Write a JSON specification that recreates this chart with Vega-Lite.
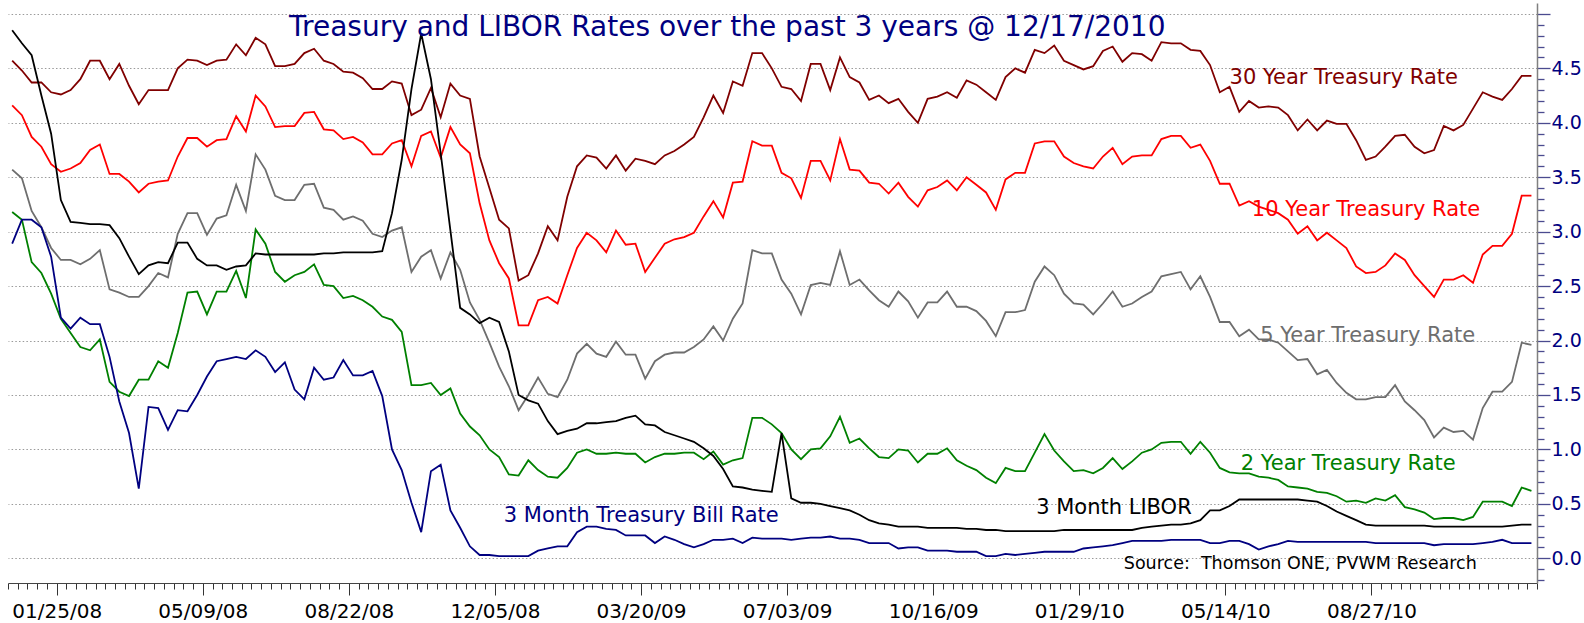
{
"$schema":"https://vega.github.io/schema/vega-lite/v6.json",
"width":1529,"height":580,
"autosize":{"type":"none"},
"padding":{"left":8,"top":3,"right":47,"bottom":40},
"background":"white",
"config":{"view":{"stroke":null},"font":"DejaVu Sans"},
"datasets":{
"rates":[
{"d":"2007-12-24","t30":4.57,"t10":4.16,"t5":3.57,"t2":3.18,"libor":4.85,"tbill":2.89},
{"d":"2007-12-31","t30":4.48,"t10":4.07,"t5":3.49,"t2":3.11,"libor":4.73,"tbill":3.11},
{"d":"2008-01-07","t30":4.37,"t10":3.87,"t5":3.19,"t2":2.72,"libor":4.62,"tbill":3.11},
{"d":"2008-01-14","t30":4.37,"t10":3.78,"t5":3.04,"t2":2.62,"libor":4.25,"tbill":3.04},
{"d":"2008-01-21","t30":4.28,"t10":3.62,"t5":2.85,"t2":2.43,"libor":3.90,"tbill":2.77},
{"d":"2008-01-28","t30":4.26,"t10":3.55,"t5":2.74,"t2":2.20,"libor":3.29,"tbill":2.21},
{"d":"2008-02-04","t30":4.30,"t10":3.58,"t5":2.74,"t2":2.07,"libor":3.09,"tbill":2.11},
{"d":"2008-02-11","t30":4.40,"t10":3.63,"t5":2.70,"t2":1.94,"libor":3.08,"tbill":2.21},
{"d":"2008-02-18","t30":4.57,"t10":3.75,"t5":2.75,"t2":1.91,"libor":3.07,"tbill":2.15},
{"d":"2008-02-25","t30":4.57,"t10":3.80,"t5":2.83,"t2":2.01,"libor":3.07,"tbill":2.15},
{"d":"2008-03-03","t30":4.40,"t10":3.53,"t5":2.47,"t2":1.62,"libor":3.06,"tbill":1.85},
{"d":"2008-03-10","t30":4.54,"t10":3.53,"t5":2.44,"t2":1.53,"libor":2.94,"tbill":1.44},
{"d":"2008-03-17","t30":4.34,"t10":3.46,"t5":2.40,"t2":1.49,"libor":2.77,"tbill":1.15},
{"d":"2008-03-24","t30":4.17,"t10":3.36,"t5":2.40,"t2":1.64,"libor":2.61,"tbill":0.64},
{"d":"2008-03-31","t30":4.30,"t10":3.44,"t5":2.50,"t2":1.64,"libor":2.69,"tbill":1.39},
{"d":"2008-04-07","t30":4.30,"t10":3.46,"t5":2.62,"t2":1.81,"libor":2.72,"tbill":1.38},
{"d":"2008-04-14","t30":4.30,"t10":3.47,"t5":2.58,"t2":1.75,"libor":2.71,"tbill":1.18},
{"d":"2008-04-21","t30":4.50,"t10":3.69,"t5":2.98,"t2":2.07,"libor":2.90,"tbill":1.36},
{"d":"2008-04-28","t30":4.58,"t10":3.86,"t5":3.17,"t2":2.44,"libor":2.90,"tbill":1.35},
{"d":"2008-05-05","t30":4.57,"t10":3.86,"t5":3.17,"t2":2.45,"libor":2.75,"tbill":1.50},
{"d":"2008-05-12","t30":4.53,"t10":3.78,"t5":2.97,"t2":2.24,"libor":2.69,"tbill":1.67},
{"d":"2008-05-19","t30":4.57,"t10":3.84,"t5":3.12,"t2":2.45,"libor":2.69,"tbill":1.81},
{"d":"2008-05-26","t30":4.58,"t10":3.85,"t5":3.15,"t2":2.45,"libor":2.65,"tbill":1.83},
{"d":"2008-06-02","t30":4.72,"t10":4.06,"t5":3.43,"t2":2.64,"libor":2.68,"tbill":1.85},
{"d":"2008-06-09","t30":4.62,"t10":3.92,"t5":3.19,"t2":2.39,"libor":2.69,"tbill":1.83},
{"d":"2008-06-16","t30":4.78,"t10":4.25,"t5":3.71,"t2":3.02,"libor":2.80,"tbill":1.91},
{"d":"2008-06-23","t30":4.72,"t10":4.15,"t5":3.57,"t2":2.89,"libor":2.79,"tbill":1.85},
{"d":"2008-06-30","t30":4.52,"t10":3.96,"t5":3.33,"t2":2.63,"libor":2.79,"tbill":1.71},
{"d":"2008-07-07","t30":4.52,"t10":3.97,"t5":3.29,"t2":2.54,"libor":2.79,"tbill":1.80},
{"d":"2008-07-14","t30":4.54,"t10":3.97,"t5":3.29,"t2":2.60,"libor":2.79,"tbill":1.55},
{"d":"2008-07-21","t30":4.64,"t10":4.09,"t5":3.43,"t2":2.63,"libor":2.79,"tbill":1.46},
{"d":"2008-07-28","t30":4.68,"t10":4.10,"t5":3.44,"t2":2.70,"libor":2.79,"tbill":1.75},
{"d":"2008-08-04","t30":4.57,"t10":3.94,"t5":3.22,"t2":2.51,"libor":2.80,"tbill":1.64},
{"d":"2008-08-11","t30":4.54,"t10":3.93,"t5":3.20,"t2":2.50,"libor":2.80,"tbill":1.66},
{"d":"2008-08-18","t30":4.47,"t10":3.85,"t5":3.11,"t2":2.39,"libor":2.81,"tbill":1.82},
{"d":"2008-08-25","t30":4.46,"t10":3.87,"t5":3.14,"t2":2.41,"libor":2.81,"tbill":1.68},
{"d":"2008-09-01","t30":4.41,"t10":3.82,"t5":3.10,"t2":2.37,"libor":2.81,"tbill":1.68},
{"d":"2008-09-08","t30":4.31,"t10":3.71,"t5":2.98,"t2":2.31,"libor":2.81,"tbill":1.72},
{"d":"2008-09-15","t30":4.31,"t10":3.71,"t5":2.95,"t2":2.22,"libor":2.82,"tbill":1.49},
{"d":"2008-09-22","t30":4.38,"t10":3.81,"t5":3.01,"t2":2.19,"libor":3.17,"tbill":1.00},
{"d":"2008-09-29","t30":4.36,"t10":3.84,"t5":3.04,"t2":2.08,"libor":3.66,"tbill":0.81},
{"d":"2008-10-06","t30":4.07,"t10":3.60,"t5":2.63,"t2":1.59,"libor":4.31,"tbill":0.51},
{"d":"2008-10-13","t30":4.12,"t10":3.88,"t5":2.77,"t2":1.59,"libor":4.82,"tbill":0.24},
{"d":"2008-10-20","t30":4.32,"t10":3.92,"t5":2.83,"t2":1.61,"libor":4.40,"tbill":0.80},
{"d":"2008-10-27","t30":4.05,"t10":3.68,"t5":2.57,"t2":1.50,"libor":3.72,"tbill":0.86},
{"d":"2008-11-03","t30":4.36,"t10":3.96,"t5":2.81,"t2":1.56,"libor":3.01,"tbill":0.44},
{"d":"2008-11-10","t30":4.25,"t10":3.80,"t5":2.65,"t2":1.33,"libor":2.30,"tbill":0.28},
{"d":"2008-11-17","t30":4.22,"t10":3.72,"t5":2.35,"t2":1.21,"libor":2.24,"tbill":0.11},
{"d":"2008-11-24","t30":3.69,"t10":3.26,"t5":2.19,"t2":1.13,"libor":2.16,"tbill":0.03},
{"d":"2008-12-01","t30":3.40,"t10":2.92,"t5":1.98,"t2":1.00,"libor":2.21,"tbill":0.03},
{"d":"2008-12-08","t30":3.11,"t10":2.71,"t5":1.76,"t2":0.93,"libor":2.17,"tbill":0.02},
{"d":"2008-12-15","t30":3.03,"t10":2.57,"t5":1.58,"t2":0.77,"libor":1.90,"tbill":0.02},
{"d":"2008-12-22","t30":2.55,"t10":2.14,"t5":1.36,"t2":0.76,"libor":1.50,"tbill":0.02},
{"d":"2008-12-29","t30":2.60,"t10":2.14,"t5":1.50,"t2":0.90,"libor":1.45,"tbill":0.02},
{"d":"2009-01-05","t30":2.80,"t10":2.37,"t5":1.66,"t2":0.81,"libor":1.42,"tbill":0.07},
{"d":"2009-01-12","t30":3.05,"t10":2.40,"t5":1.51,"t2":0.75,"libor":1.26,"tbill":0.09},
{"d":"2009-01-19","t30":2.92,"t10":2.34,"t5":1.48,"t2":0.74,"libor":1.14,"tbill":0.11},
{"d":"2009-01-26","t30":3.32,"t10":2.60,"t5":1.64,"t2":0.83,"libor":1.17,"tbill":0.11},
{"d":"2009-02-02","t30":3.60,"t10":2.85,"t5":1.88,"t2":0.97,"libor":1.19,"tbill":0.24},
{"d":"2009-02-09","t30":3.70,"t10":2.99,"t5":1.97,"t2":1.00,"libor":1.24,"tbill":0.29},
{"d":"2009-02-16","t30":3.68,"t10":2.92,"t5":1.88,"t2":0.96,"libor":1.24,"tbill":0.29},
{"d":"2009-02-23","t30":3.58,"t10":2.81,"t5":1.85,"t2":0.96,"libor":1.25,"tbill":0.27},
{"d":"2009-03-02","t30":3.70,"t10":3.01,"t5":1.99,"t2":0.97,"libor":1.26,"tbill":0.26},
{"d":"2009-03-09","t30":3.56,"t10":2.88,"t5":1.87,"t2":0.96,"libor":1.29,"tbill":0.21},
{"d":"2009-03-16","t30":3.67,"t10":2.89,"t5":1.87,"t2":0.96,"libor":1.31,"tbill":0.21},
{"d":"2009-03-23","t30":3.65,"t10":2.63,"t5":1.65,"t2":0.88,"libor":1.23,"tbill":0.21},
{"d":"2009-03-30","t30":3.62,"t10":2.76,"t5":1.81,"t2":0.93,"libor":1.22,"tbill":0.14},
{"d":"2009-04-06","t30":3.70,"t10":2.89,"t5":1.87,"t2":0.96,"libor":1.16,"tbill":0.20},
{"d":"2009-04-13","t30":3.74,"t10":2.93,"t5":1.89,"t2":0.96,"libor":1.13,"tbill":0.17},
{"d":"2009-04-20","t30":3.80,"t10":2.95,"t5":1.89,"t2":0.97,"libor":1.10,"tbill":0.13},
{"d":"2009-04-27","t30":3.87,"t10":2.99,"t5":1.94,"t2":0.97,"libor":1.07,"tbill":0.10},
{"d":"2009-05-04","t30":4.05,"t10":3.14,"t5":2.01,"t2":0.91,"libor":1.01,"tbill":0.13},
{"d":"2009-05-11","t30":4.25,"t10":3.28,"t5":2.13,"t2":0.98,"libor":0.94,"tbill":0.17},
{"d":"2009-05-18","t30":4.09,"t10":3.13,"t5":2.00,"t2":0.86,"libor":0.82,"tbill":0.17},
{"d":"2009-05-25","t30":4.38,"t10":3.45,"t5":2.20,"t2":0.90,"libor":0.66,"tbill":0.18},
{"d":"2009-06-01","t30":4.34,"t10":3.46,"t5":2.34,"t2":0.92,"libor":0.65,"tbill":0.14},
{"d":"2009-06-08","t30":4.64,"t10":3.83,"t5":2.83,"t2":1.29,"libor":0.63,"tbill":0.19},
{"d":"2009-06-15","t30":4.64,"t10":3.79,"t5":2.80,"t2":1.29,"libor":0.62,"tbill":0.18},
{"d":"2009-06-22","t30":4.50,"t10":3.79,"t5":2.80,"t2":1.23,"libor":0.61,"tbill":0.18},
{"d":"2009-06-29","t30":4.33,"t10":3.54,"t5":2.56,"t2":1.15,"libor":1.15,"tbill":0.18},
{"d":"2009-07-06","t30":4.31,"t10":3.49,"t5":2.43,"t2":1.00,"libor":0.55,"tbill":0.17},
{"d":"2009-07-13","t30":4.20,"t10":3.31,"t5":2.24,"t2":0.91,"libor":0.51,"tbill":0.18},
{"d":"2009-07-20","t30":4.54,"t10":3.65,"t5":2.51,"t2":1.00,"libor":0.51,"tbill":0.19},
{"d":"2009-07-27","t30":4.54,"t10":3.65,"t5":2.53,"t2":1.01,"libor":0.50,"tbill":0.19},
{"d":"2009-08-03","t30":4.30,"t10":3.47,"t5":2.51,"t2":1.12,"libor":0.48,"tbill":0.20},
{"d":"2009-08-10","t30":4.60,"t10":3.85,"t5":2.82,"t2":1.30,"libor":0.46,"tbill":0.18},
{"d":"2009-08-17","t30":4.42,"t10":3.57,"t5":2.51,"t2":1.06,"libor":0.44,"tbill":0.18},
{"d":"2009-08-24","t30":4.37,"t10":3.56,"t5":2.56,"t2":1.10,"libor":0.40,"tbill":0.17},
{"d":"2009-08-31","t30":4.21,"t10":3.45,"t5":2.46,"t2":1.01,"libor":0.35,"tbill":0.14},
{"d":"2009-09-07","t30":4.25,"t10":3.44,"t5":2.37,"t2":0.93,"libor":0.32,"tbill":0.14},
{"d":"2009-09-14","t30":4.18,"t10":3.35,"t5":2.31,"t2":0.92,"libor":0.31,"tbill":0.14},
{"d":"2009-09-21","t30":4.22,"t10":3.45,"t5":2.45,"t2":1.00,"libor":0.29,"tbill":0.09},
{"d":"2009-09-28","t30":4.10,"t10":3.32,"t5":2.36,"t2":0.99,"libor":0.29,"tbill":0.10},
{"d":"2009-10-05","t30":4.00,"t10":3.23,"t5":2.21,"t2":0.88,"libor":0.29,"tbill":0.10},
{"d":"2009-10-12","t30":4.22,"t10":3.38,"t5":2.35,"t2":0.96,"libor":0.28,"tbill":0.07},
{"d":"2009-10-19","t30":4.24,"t10":3.41,"t5":2.35,"t2":0.96,"libor":0.28,"tbill":0.07},
{"d":"2009-10-26","t30":4.28,"t10":3.47,"t5":2.45,"t2":1.01,"libor":0.28,"tbill":0.07},
{"d":"2009-11-02","t30":4.23,"t10":3.38,"t5":2.31,"t2":0.90,"libor":0.28,"tbill":0.06},
{"d":"2009-11-09","t30":4.39,"t10":3.50,"t5":2.31,"t2":0.85,"libor":0.27,"tbill":0.06},
{"d":"2009-11-16","t30":4.35,"t10":3.43,"t5":2.27,"t2":0.81,"libor":0.27,"tbill":0.06},
{"d":"2009-11-23","t30":4.28,"t10":3.36,"t5":2.18,"t2":0.74,"libor":0.26,"tbill":0.02},
{"d":"2009-11-30","t30":4.21,"t10":3.20,"t5":2.04,"t2":0.69,"libor":0.26,"tbill":0.02},
{"d":"2009-12-07","t30":4.42,"t10":3.48,"t5":2.26,"t2":0.83,"libor":0.25,"tbill":0.04},
{"d":"2009-12-14","t30":4.50,"t10":3.54,"t5":2.26,"t2":0.80,"libor":0.25,"tbill":0.03},
{"d":"2009-12-21","t30":4.46,"t10":3.54,"t5":2.28,"t2":0.80,"libor":0.25,"tbill":0.04},
{"d":"2009-12-28","t30":4.67,"t10":3.81,"t5":2.54,"t2":0.97,"libor":0.25,"tbill":0.05},
{"d":"2010-01-04","t30":4.64,"t10":3.83,"t5":2.68,"t2":1.14,"libor":0.25,"tbill":0.06},
{"d":"2010-01-11","t30":4.71,"t10":3.83,"t5":2.60,"t2":0.99,"libor":0.25,"tbill":0.06},
{"d":"2010-01-18","t30":4.57,"t10":3.69,"t5":2.43,"t2":0.89,"libor":0.26,"tbill":0.06},
{"d":"2010-01-25","t30":4.53,"t10":3.63,"t5":2.34,"t2":0.80,"libor":0.26,"tbill":0.06},
{"d":"2010-02-01","t30":4.49,"t10":3.60,"t5":2.33,"t2":0.81,"libor":0.26,"tbill":0.09},
{"d":"2010-02-08","t30":4.52,"t10":3.58,"t5":2.24,"t2":0.78,"libor":0.26,"tbill":0.10},
{"d":"2010-02-15","t30":4.66,"t10":3.69,"t5":2.34,"t2":0.83,"libor":0.26,"tbill":0.11},
{"d":"2010-02-22","t30":4.70,"t10":3.77,"t5":2.45,"t2":0.92,"libor":0.26,"tbill":0.12},
{"d":"2010-03-01","t30":4.56,"t10":3.62,"t5":2.31,"t2":0.82,"libor":0.26,"tbill":0.14},
{"d":"2010-03-08","t30":4.64,"t10":3.69,"t5":2.34,"t2":0.89,"libor":0.26,"tbill":0.16},
{"d":"2010-03-15","t30":4.63,"t10":3.70,"t5":2.40,"t2":0.97,"libor":0.28,"tbill":0.16},
{"d":"2010-03-22","t30":4.57,"t10":3.70,"t5":2.45,"t2":1.00,"libor":0.29,"tbill":0.16},
{"d":"2010-03-29","t30":4.74,"t10":3.85,"t5":2.59,"t2":1.06,"libor":0.30,"tbill":0.16},
{"d":"2010-04-05","t30":4.73,"t10":3.88,"t5":2.61,"t2":1.07,"libor":0.31,"tbill":0.17},
{"d":"2010-04-12","t30":4.73,"t10":3.88,"t5":2.63,"t2":1.07,"libor":0.31,"tbill":0.17},
{"d":"2010-04-19","t30":4.67,"t10":3.77,"t5":2.47,"t2":0.96,"libor":0.32,"tbill":0.17},
{"d":"2010-04-26","t30":4.66,"t10":3.80,"t5":2.59,"t2":1.07,"libor":0.35,"tbill":0.17},
{"d":"2010-05-03","t30":4.53,"t10":3.65,"t5":2.40,"t2":0.97,"libor":0.44,"tbill":0.14},
{"d":"2010-05-10","t30":4.28,"t10":3.44,"t5":2.17,"t2":0.83,"libor":0.44,"tbill":0.14},
{"d":"2010-05-17","t30":4.33,"t10":3.44,"t5":2.17,"t2":0.79,"libor":0.48,"tbill":0.16},
{"d":"2010-05-24","t30":4.10,"t10":3.24,"t5":2.04,"t2":0.78,"libor":0.54,"tbill":0.16},
{"d":"2010-05-31","t30":4.20,"t10":3.28,"t5":2.10,"t2":0.78,"libor":0.54,"tbill":0.13},
{"d":"2010-06-07","t30":4.14,"t10":3.23,"t5":2.01,"t2":0.75,"libor":0.54,"tbill":0.08},
{"d":"2010-06-14","t30":4.15,"t10":3.20,"t5":2.01,"t2":0.74,"libor":0.54,"tbill":0.11},
{"d":"2010-06-21","t30":4.14,"t10":3.17,"t5":1.98,"t2":0.72,"libor":0.54,"tbill":0.13},
{"d":"2010-06-28","t30":4.07,"t10":3.11,"t5":1.90,"t2":0.66,"libor":0.54,"tbill":0.16},
{"d":"2010-07-05","t30":3.93,"t10":2.98,"t5":1.82,"t2":0.65,"libor":0.54,"tbill":0.15},
{"d":"2010-07-12","t30":4.03,"t10":3.05,"t5":1.83,"t2":0.64,"libor":0.53,"tbill":0.15},
{"d":"2010-07-19","t30":3.93,"t10":2.92,"t5":1.69,"t2":0.61,"libor":0.52,"tbill":0.15},
{"d":"2010-07-26","t30":4.02,"t10":2.99,"t5":1.73,"t2":0.60,"libor":0.48,"tbill":0.15},
{"d":"2010-08-02","t30":3.99,"t10":2.92,"t5":1.61,"t2":0.57,"libor":0.43,"tbill":0.15},
{"d":"2010-08-09","t30":3.99,"t10":2.85,"t5":1.52,"t2":0.52,"libor":0.39,"tbill":0.15},
{"d":"2010-08-16","t30":3.84,"t10":2.68,"t5":1.46,"t2":0.53,"libor":0.35,"tbill":0.15},
{"d":"2010-08-23","t30":3.66,"t10":2.62,"t5":1.46,"t2":0.51,"libor":0.31,"tbill":0.15},
{"d":"2010-08-30","t30":3.69,"t10":2.63,"t5":1.48,"t2":0.55,"libor":0.30,"tbill":0.14},
{"d":"2010-09-06","t30":3.78,"t10":2.69,"t5":1.48,"t2":0.53,"libor":0.30,"tbill":0.14},
{"d":"2010-09-13","t30":3.88,"t10":2.80,"t5":1.59,"t2":0.58,"libor":0.30,"tbill":0.14},
{"d":"2010-09-20","t30":3.89,"t10":2.74,"t5":1.44,"t2":0.47,"libor":0.30,"tbill":0.14},
{"d":"2010-09-27","t30":3.78,"t10":2.60,"t5":1.36,"t2":0.45,"libor":0.30,"tbill":0.14},
{"d":"2010-10-04","t30":3.72,"t10":2.50,"t5":1.27,"t2":0.42,"libor":0.30,"tbill":0.14},
{"d":"2010-10-11","t30":3.75,"t10":2.40,"t5":1.11,"t2":0.36,"libor":0.29,"tbill":0.12},
{"d":"2010-10-18","t30":3.97,"t10":2.56,"t5":1.20,"t2":0.37,"libor":0.29,"tbill":0.13},
{"d":"2010-10-25","t30":3.93,"t10":2.56,"t5":1.16,"t2":0.37,"libor":0.29,"tbill":0.13},
{"d":"2010-11-01","t30":3.98,"t10":2.60,"t5":1.17,"t2":0.35,"libor":0.29,"tbill":0.13},
{"d":"2010-11-08","t30":4.13,"t10":2.53,"t5":1.09,"t2":0.38,"libor":0.29,"tbill":0.13},
{"d":"2010-11-15","t30":4.28,"t10":2.79,"t5":1.38,"t2":0.52,"libor":0.29,"tbill":0.14},
{"d":"2010-11-22","t30":4.24,"t10":2.87,"t5":1.53,"t2":0.52,"libor":0.29,"tbill":0.15},
{"d":"2010-11-29","t30":4.21,"t10":2.87,"t5":1.53,"t2":0.52,"libor":0.29,"tbill":0.17},
{"d":"2010-12-06","t30":4.31,"t10":2.98,"t5":1.62,"t2":0.48,"libor":0.30,"tbill":0.14},
{"d":"2010-12-13","t30":4.43,"t10":3.33,"t5":1.98,"t2":0.65,"libor":0.31,"tbill":0.14},
{"d":"2010-12-20","t30":4.43,"t10":3.33,"t5":1.96,"t2":0.62,"libor":0.31,"tbill":0.14}
],
"labels":[
{"series":"t30","text":"30 Year Treasury Rate","d":"2010-05-17","v":4.36},
{"series":"t10","text":"10 Year Treasury Rate","d":"2010-06-02","v":3.14},
{"series":"t5","text":"5 Year Treasury Rate","d":"2010-06-08","v":1.99},
{"series":"t2","text":"2 Year Treasury Rate","d":"2010-05-25","v":0.81},
{"series":"libor","text":"3 Month LIBOR","d":"2009-12-29","v":0.41}
],
"labelsRight":[
{"series":"tbill","text":"3 Month Treasury Bill Rate","d":"2009-06-27","v":0.33}
],
"source":[
{"text":"Source:\u00a0 Thomson ONE, PVWM Research","d":"2010-03-02","v":-0.10}
],
"title":[
{"text":"Treasury and LIBOR Rates over the past 3 years @ 12/17/2010","d":"2009-05-21","v":4.80}
]
},
"encoding":{
"x":{"field":"d","type":"temporal","title":null,
"scale":{"type":"utc","nice":false,"domain":[{"year":2007,"month":12,"date":21,"utc":true},{"year":2010,"month":12,"date":24,"utc":true}]},
"axis":{"orient":"bottom","values":{"expr":"sequence(1198195200000, 1293148800001, 604800000)"},
"labelExpr":"(round((datum.value - 1198195200000)/604800000) % 15 == 5 && round((datum.value - 1198195200000)/604800000) < 150) ? utcFormat(datum.value, '%m/%d/%y') : ''",
"labelFont":"DejaVu Sans","labelFontSize":20,"labelColor":"#000000","labelOverlap":false,"labelFlush":false,"labelBaseline":"top","labelPadding":6,
"tickSize":{"condition":{"test":"round((datum.value - 1198195200000)/604800000) % 15 == 5 && round((datum.value - 1198195200000)/604800000) < 150","value":12},"value":6},
"tickColor":"#333333","tickWidth":1,"domainColor":"#444444","domainWidth":1,"grid":false}},
"y":{"field":"v","type":"quantitative","title":null,
"scale":{"domain":[-0.227,5.1],"nice":false,"zero":false},
"axis":{"orient":"right","values":[-0.2,-0.1,0,0.1,0.2,0.3,0.4,0.5,0.6,0.7,0.8,0.9,1,1.1,1.2,1.3,1.4,1.5,1.6,1.7,1.8,1.9,2,2.1,2.2,2.3,2.4,2.5,2.6,2.7,2.8,2.9,3,3.1,3.2,3.3,3.4,3.5,3.6,3.7,3.8,3.9,4,4.1,4.2,4.3,4.4,4.5,4.6,4.7,4.8,4.9,5],
"labelExpr":"(abs(datum.value*2 - round(datum.value*2)) < 0.01 && datum.value > -0.01 && datum.value < 4.9) ? format(datum.value, '.1f') : ''",
"labelFont":"DejaVu Sans","labelFontSize":19,"labelColor":"#000080","labelOverlap":false,"labelFlush":false,"labelPadding":1,
"tickSize":{"condition":{"test":"abs(datum.value*2 - round(datum.value*2)) < 0.01","value":13},"value":7},
"tickColor":"#4b4b8f","tickWidth":1.3,"domainColor":"#808080","domainWidth":1.5,
"grid":true,"gridColor":"#9a9a9a","gridDash":[1.5,2.2],"gridWidth":1,
"gridOpacity":{"condition":{"test":"abs(datum.value*2 - round(datum.value*2)) < 0.01 && datum.value > -0.01","value":1},"value":0}}}
},
"layer":[
{"data":{"name":"rates"},
"transform":[{"fold":["t30","t10","t5","t2","libor","tbill"],"as":["series","v"]}],
"mark":{"type":"line","strokeWidth":1.8},
"encoding":{"color":{"field":"series","type":"nominal","legend":null,
"scale":{"domain":["t30","t10","t5","t2","libor","tbill"],"range":["#800000","#ff0000","#6e6e6e","#008000","#000000","#000080"]}}}},
{"data":{"name":"labels"},
"mark":{"type":"text","align":"left","baseline":"alphabetic","font":"DejaVu Sans","fontSize":21},
"encoding":{"text":{"field":"text"},"color":{"field":"series","type":"nominal","legend":null}}},
{"data":{"name":"labelsRight"},
"mark":{"type":"text","align":"right","baseline":"alphabetic","font":"DejaVu Sans","fontSize":21},
"encoding":{"text":{"field":"text"},"color":{"field":"series","type":"nominal","legend":null}}},
{"data":{"name":"source"},
"mark":{"type":"text","align":"left","baseline":"alphabetic","font":"DejaVu Sans","fontSize":17.5,"color":"#000000"},
"encoding":{"text":{"field":"text"}}},
{"data":{"name":"title"},
"mark":{"type":"text","align":"center","baseline":"alphabetic","font":"DejaVu Sans","fontSize":28,"color":"#000080"},
"encoding":{"text":{"field":"text"}}}
]
}
